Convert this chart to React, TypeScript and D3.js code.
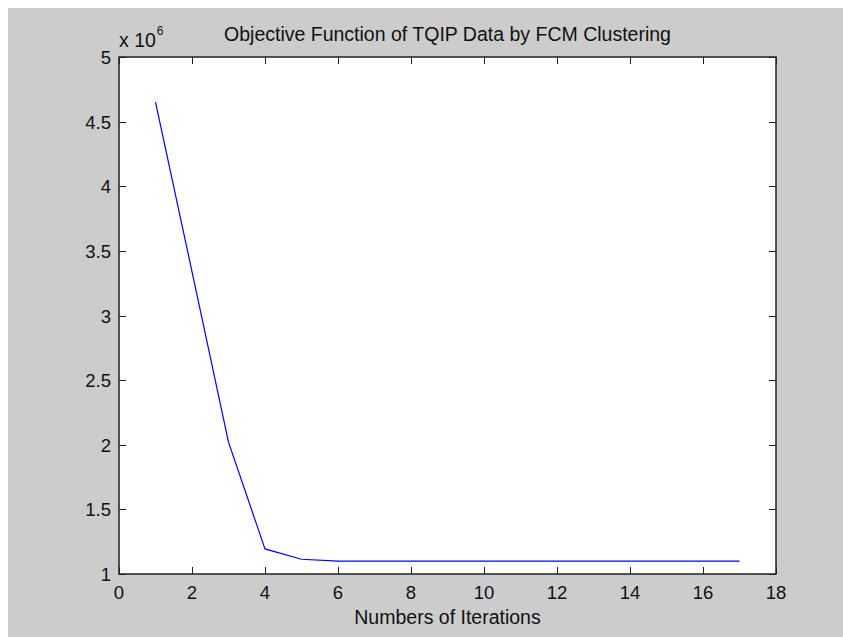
import React, { useEffect, useRef } from "react";
import * as d3 from "d3";

// FCM objective function per iteration (x 10^6)
const iterations = [1, 2, 3, 4, 5, 6, 7, 8, 9, 10, 11, 12, 13, 14, 15, 16, 17];
const objective = [
  4650000, 3340000, 2020000, 1194000, 1114000, 1100000, 1099000, 1099000,
  1099000, 1099000, 1099000, 1099000, 1099000, 1099000, 1099000, 1099000,
  1099000,
];
const xTicks = [0, 2, 4, 6, 8, 10, 12, 14, 16, 18];
const yTicks = [1, 1.5, 2, 2.5, 3, 3.5, 4, 4.5, 5];
const yExponent = 6;

const chartTitle = "Objective Function of TQIP Data by FCM Clustering";
const xLabel = "Numbers of Iterations";

const App = () => {
  const ref = useRef<SVGSVGElement | null>(null);

  useEffect(() => {
    const width = 843;
    const height = 637;
    const margin = { top: 57, right: 67, bottom: 63, left: 119 };
    const font = "'Liberation Sans', Arial, sans-serif";
    const tickLen = 7;

    const svg = d3.select(ref.current);
    svg.selectAll("*").remove();

    // figure background (grey, like a matlab figure window)
    svg.append("rect").attr("width", width).attr("height", height).attr("fill", "#fff");
    svg
      .append("rect")
      .attr("x", 8)
      .attr("y", 8)
      .attr("width", width - 8)
      .attr("height", height - 8)
      .attr("fill", "#cccccc");

    const x = d3.scaleLinear().domain([0, 18]).range([margin.left, width - margin.right]);
    const y = d3.scaleLinear().domain([1, 5]).range([height - margin.bottom, margin.top]);
    const scale = Math.pow(10, yExponent);

    // white axes area
    svg
      .append("rect")
      .attr("x", x(0))
      .attr("y", y(5))
      .attr("width", x(18) - x(0))
      .attr("height", y(1) - y(5))
      .attr("fill", "#fff");

    // line
    const line = d3
      .line<number>()
      .x((_, i) => x(iterations[i]))
      .y((d) => y(d / scale));

    svg
      .append("path")
      .datum(objective)
      .attr("d", line)
      .attr("fill", "none")
      .attr("stroke", "#0000ff")
      .attr("stroke-width", 1.2);

    // ticks on all four sides, pointing inward
    const ticks = svg.append("g").attr("stroke", "#222").attr("stroke-width", 1);
    xTicks.forEach((t) => {
      const px = Math.round(x(t)) + 0.5;
      ticks.append("line").attr("x1", px).attr("x2", px).attr("y1", y(1)).attr("y2", y(1) - tickLen);
      ticks.append("line").attr("x1", px).attr("x2", px).attr("y1", y(5)).attr("y2", y(5) + tickLen);
    });
    yTicks.forEach((t) => {
      const py = Math.round(y(t)) + 0.5;
      ticks.append("line").attr("x1", x(0)).attr("x2", x(0) + tickLen).attr("y1", py).attr("y2", py);
      ticks.append("line").attr("x1", x(18)).attr("x2", x(18) - tickLen).attr("y1", py).attr("y2", py);
    });

    // box
    svg
      .append("rect")
      .attr("x", x(0))
      .attr("y", y(5))
      .attr("width", x(18) - x(0))
      .attr("height", y(1) - y(5))
      .attr("fill", "none")
      .attr("stroke", "#222")
      .attr("stroke-width", 1.5);

    // tick labels
    svg
      .append("g")
      .selectAll("text")
      .data(xTicks)
      .join("text")
      .attr("x", (d) => x(d))
      .attr("y", y(1) + 25)
      .attr("text-anchor", "middle")
      .attr("font-family", font)
      .attr("font-size", 18.5)
      .attr("fill", "#111")
      .text((d) => d);

    svg
      .append("g")
      .selectAll("text")
      .data(yTicks)
      .join("text")
      .attr("x", x(0) - 8)
      .attr("y", (d) => y(d) + 7)
      .attr("text-anchor", "end")
      .attr("font-family", font)
      .attr("font-size", 18.5)
      .attr("fill", "#111")
      .text((d) => d);

    // exponent label "x 10^6"
    const expo = svg
      .append("text")
      .attr("x", x(0))
      .attr("y", 47)
      .attr("font-family", font)
      .attr("font-size", 19.5)
      .attr("fill", "#111");
    expo.append("tspan").text("x 10");
    expo.append("tspan").attr("font-size", 12).attr("dx", 1).attr("dy", -12).text(yExponent);

    // title
    svg
      .append("text")
      .attr("x", (x(0) + x(18)) / 2)
      .attr("y", 41)
      .attr("text-anchor", "middle")
      .attr("font-family", font)
      .attr("font-size", 19.5)
      .attr("fill", "#111")
      .text(chartTitle);

    // x label
    svg
      .append("text")
      .attr("x", (x(0) + x(18)) / 2)
      .attr("y", 624)
      .attr("text-anchor", "middle")
      .attr("font-family", font)
      .attr("font-size", 19.5)
      .attr("fill", "#111")
      .text(xLabel);
  }, []);

  return (
    <div style={{ position: "fixed", left: 0, top: 0, width: 843, height: 637, overflow: "hidden" }}>
      <svg ref={ref} width={843} height={637} style={{ display: "block" }} />
    </div>
  );
};

export default App;
